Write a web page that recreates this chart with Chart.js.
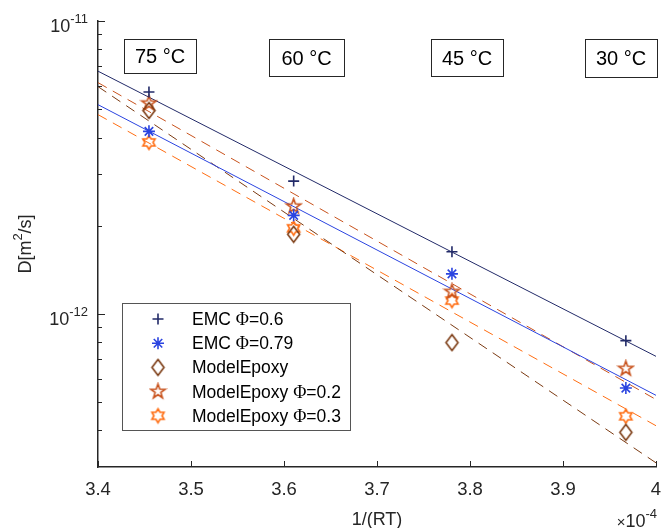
<!DOCTYPE html>
<html>
<head>
<meta charset="utf-8">
<script src="https://cdn.jsdelivr.net/npm/chart.js@4.4.0/dist/chart.umd.min.js"></script>
<style>
  html, body { margin: 0; padding: 0; background: #fff; }
  #wrap { width: 661px; height: 528px; position: relative; }
</style>
</head>
<body>
<div id="wrap"><canvas id="c"></canvas></div>
<script>
'use strict';

// 1/(RT) in units of 1e-4 (75, 60, 45, 30 degC)
var invRT = [3.4548, 3.6104, 3.7806, 3.9676];
var tempLabels = ['75 °C', '60 °C', '45 °C', '30 °C'];

// measured D [m^2/s]
var emc06   = [5.72e-12, 2.84e-12, 1.63e-12, 8.10e-13];
var emc079  = [4.20e-12, 2.17e-12, 1.37e-12, 5.58e-13];
var epoxy   = [4.95e-12, 1.87e-12, 7.98e-13, 3.94e-13];
var epoxy02 = [5.24e-12, 2.33e-12, 1.19e-12, 6.50e-13];
var epoxy03 = [3.85e-12, 1.96e-12, 1.11e-12, 4.47e-13];

// fitted lines, read at 1/(RT) = 3.4 and 4
var fitX     = [3.4, 4];
var fit06    = [6.74e-12, 7.16e-13];
var fit079   = [5.18e-12, 5.27e-13];
var fitEpoxy = [5.97e-12, 3.10e-13];
var fit02    = [6.16e-12, 5.10e-13];
var fit03    = [4.79e-12, 4.15e-13];

var seriesNames = ['EMC Φ=0.6', 'EMC Φ=0.79', 'ModelEpoxy', 'ModelEpoxy Φ=0.2', 'ModelEpoxy Φ=0.3'];

var xTicks = [3.4, 3.5, 3.6, 3.7, 3.8, 3.9, 4];
var yMajor = [1e-11, 1e-12];
var yMinor = [9e-12, 8e-12, 7e-12, 6e-12, 5e-12, 4e-12, 3e-12, 2e-12,
              9e-13, 8e-13, 7e-13, 6e-13, 5e-13, 4e-13];

var navy = '#222a68', blue = '#2b44e0', brown = '#7b3a12', dkorange = '#c8521c', orange = '#ff6d12';
var ink = '#262626';
var SANS = '"Liberation Sans", Arial, sans-serif';
var SERIF = '"Liberation Serif", "Times New Roman", serif';

function markerImage(kind, color) {
  var c = document.createElement('canvas');
  c.width = 19; c.height = 19;
  var g = c.getContext('2d');
  var cx = 9.5, cy = 9.5;
  g.strokeStyle = color;
  g.lineWidth = 1.6;
  g.beginPath();
  if (kind === 'diamond') {
    g.moveTo(cx, cy - 8); g.lineTo(cx + 6, cy); g.lineTo(cx, cy + 8); g.lineTo(cx - 6, cy);
  } else {
    var n = kind === 'pentagram' ? 5 : 6;
    var ro = kind === 'pentagram' ? 7.6 : 7;
    var ri = kind === 'pentagram' ? 3.0 : 4.04;
    for (var i = 0; i < 2 * n; i++) {
      var a = -Math.PI / 2 + i * Math.PI / n;
      var r = i % 2 ? ri : ro;
      if (i === 0) g.moveTo(cx + r * Math.cos(a), cy + r * Math.sin(a));
      else g.lineTo(cx + r * Math.cos(a), cy + r * Math.sin(a));
    }
  }
  g.closePath();
  g.stroke();
  return c;
}

function pts(xs, ys) {
  return xs.map(function (x, i) { return { x: x, y: ys[i] }; });
}

var markers = [
  { style: 'cross', radius: 5.5, color: navy },
  { style: 'star', radius: 6, color: blue },
  { style: markerImage('diamond', brown), radius: 8, color: brown },
  { style: markerImage('pentagram', dkorange), radius: 8, color: dkorange },
  { style: markerImage('hexagram', orange), radius: 8, color: orange }
];
var measured = [emc06, emc079, epoxy, epoxy02, epoxy03];
var fits = [fit06, fit079, fitEpoxy, fit02, fit03];
var fitDash = [[], [], [10, 7], [10, 7], [10, 7]];

var datasets = [];
measured.forEach(function (vals, i) {
  datasets.push({
    type: 'scatter',
    label: seriesNames[i],
    data: pts(invRT, vals),
    pointStyle: markers[i].style,
    pointRadius: markers[i].radius,
    pointBorderColor: markers[i].color,
    pointBackgroundColor: 'transparent',
    pointBorderWidth: 1.6,
    showLine: false
  });
});
fits.forEach(function (vals, i) {
  datasets.push({
    type: 'line',
    label: seriesNames[i] + ' fit',
    data: pts(fitX, vals),
    borderColor: markers[i].color,
    borderWidth: 1,
    borderDash: fitDash[i],
    pointRadius: 0,
    fill: false
  });
});

function supText(ctx, parts, x, y, align) {
  // parts: [text, size, rise, font]
  var w = 0;
  parts.forEach(function (p) { ctx.font = p[1] + 'px ' + (p[3] || SANS); w += ctx.measureText(p[0]).width; });
  var cx = align === 'right' ? x - w : (align === 'center' ? x - w / 2 : x);
  ctx.textAlign = 'left';
  ctx.textBaseline = 'alphabetic';
  parts.forEach(function (p) {
    ctx.font = p[1] + 'px ' + (p[3] || SANS);
    ctx.fillText(p[0], cx, y - p[2]);
    cx += ctx.measureText(p[0]).width;
  });
}

var extras = {
  id: 'extras',
  afterDraw: function (chart) {
    var ctx = chart.ctx, xs = chart.scales.x, ys = chart.scales.y;
    var area = chart.chartArea;
    ctx.save();
    ctx.strokeStyle = ink;
    ctx.lineWidth = 1;
    // inward ticks
    ctx.beginPath();
    yMajor.forEach(function (v) {
      var y = Math.round(ys.getPixelForValue(v)) + 0.5;
      ctx.moveTo(area.left, y); ctx.lineTo(area.left + 7, y);
    });
    yMinor.forEach(function (v) {
      var y = Math.round(ys.getPixelForValue(v)) + 0.5;
      ctx.moveTo(area.left, y); ctx.lineTo(area.left + 4, y);
    });
    xTicks.forEach(function (v) {
      var x = Math.round(xs.getPixelForValue(v)) + 0.5;
      ctx.moveTo(x, area.bottom); ctx.lineTo(x, area.bottom - 6);
    });
    ctx.stroke();

    ctx.fillStyle = ink;
    // y tick labels
    yMajor.forEach(function (v) {
      var y = ys.getPixelForValue(v);
      var e = Math.round(Math.log10(v));
      supText(ctx, [['10', 18, 0], [String(e), 13, 9]], 88, y + 11, 'right');
    });
    // axis titles
    supText(ctx, [['1/(RT)', 18, 0]], (area.left + area.right) / 2, 525, 'center');
    supText(ctx, [['×', 15, 0], ['10', 18, 0], ['-4', 13, 9]], 657, 527, 'right');
    ctx.save();
    ctx.translate(31, (area.top + area.bottom) / 2);
    ctx.rotate(-Math.PI / 2);
    supText(ctx, [['D[m', 18, 0], ['2', 13, 9], ['/s]', 18, 0]], 0, 0, 'center');
    ctx.restore();

    // temperature boxes
    var boxLeft = [124, 269, 431, 585], boxTop = [39, 39, 39, 39], boxW = [72, 75, 72, 72], boxH = [34, 37, 37, 38];
    tempLabels.forEach(function (t, i) {
      ctx.fillStyle = '#fff';
      ctx.fillRect(boxLeft[i], boxTop[i], boxW[i], boxH[i]);
      ctx.strokeStyle = ink;
      ctx.lineWidth = 1;
      ctx.strokeRect(boxLeft[i] + 0.5, boxTop[i] + 0.5, boxW[i], boxH[i]);
      ctx.fillStyle = '#000';
      supText(ctx, [[t, 20, 0]], boxLeft[i] + boxW[i] / 2, boxTop[i] + boxH[i] / 2 + 7, 'center');
    });

    // legend
    var lx = 122, ly = 303, lw = 228, lh = 127;
    ctx.fillStyle = '#fff';
    ctx.fillRect(lx, ly, lw, lh);
    ctx.strokeStyle = '#555';
    ctx.strokeRect(lx + 0.5, ly + 0.5, lw, lh);
    seriesNames.forEach(function (name, i) {
      var y = 319 + i * 24.2;
      var m = markers[i];
      ctx.strokeStyle = m.color;
      ctx.fillStyle = 'transparent';
      ctx.lineWidth = 1.6;
      Chart.helpers.drawPoint(ctx, { pointStyle: m.style, radius: m.radius, borderWidth: 1.6, rotation: 0 }, 158, y);
      ctx.fillStyle = '#000';
      var parts = [];
      name.split(/(Φ)/).forEach(function (s) {
        if (!s) return;
        parts.push(s === 'Φ' ? [s, 18, 0, SERIF] : [s, 17.5, 0]);
      });
      supText(ctx, parts, 192, y + 6, 'left');
    });
    ctx.restore();
  }
};

new Chart(document.getElementById('c'), {
  data: { datasets: datasets },
  options: {
    responsive: true,
    maintainAspectRatio: false,
    animation: false,
    layout: { autoPadding: false, padding: { left: 0, top: 21, right: 5, bottom: 0 } },
    plugins: { legend: { display: false }, tooltip: { enabled: false } },
    scales: {
      x: {
        type: 'linear',
        min: 3.4,
        max: 4,
        afterBuildTicks: function (axis) { axis.ticks = xTicks.map(function (v) { return { value: v }; }); },
        afterFit: function (axis) { axis.height = 61; axis.paddingLeft = 0; axis.paddingRight = 0; },
        grid: { drawOnChartArea: false, drawTicks: false },
        border: { display: true, color: ink, width: 1.5 },
        ticks: {
          padding: 12,
          maxRotation: 0,
          autoSkip: false,
          color: ink,
          font: { family: SANS, size: 18.5 },
          callback: function (v) { return v === 4 ? '4' : v.toFixed(1); }
        }
      },
      y: {
        type: 'logarithmic',
        min: 3.1e-13,
        max: 1e-11,
        afterFit: function (axis) { axis.width = 98; axis.paddingTop = 0; axis.paddingBottom = 0; },
        grid: { drawOnChartArea: false, drawTicks: false },
        border: { display: true, color: ink, width: 1.5 },
        ticks: { display: false }
      }
    }
  },
  plugins: [extras]
});
</script>
</body>
</html>
